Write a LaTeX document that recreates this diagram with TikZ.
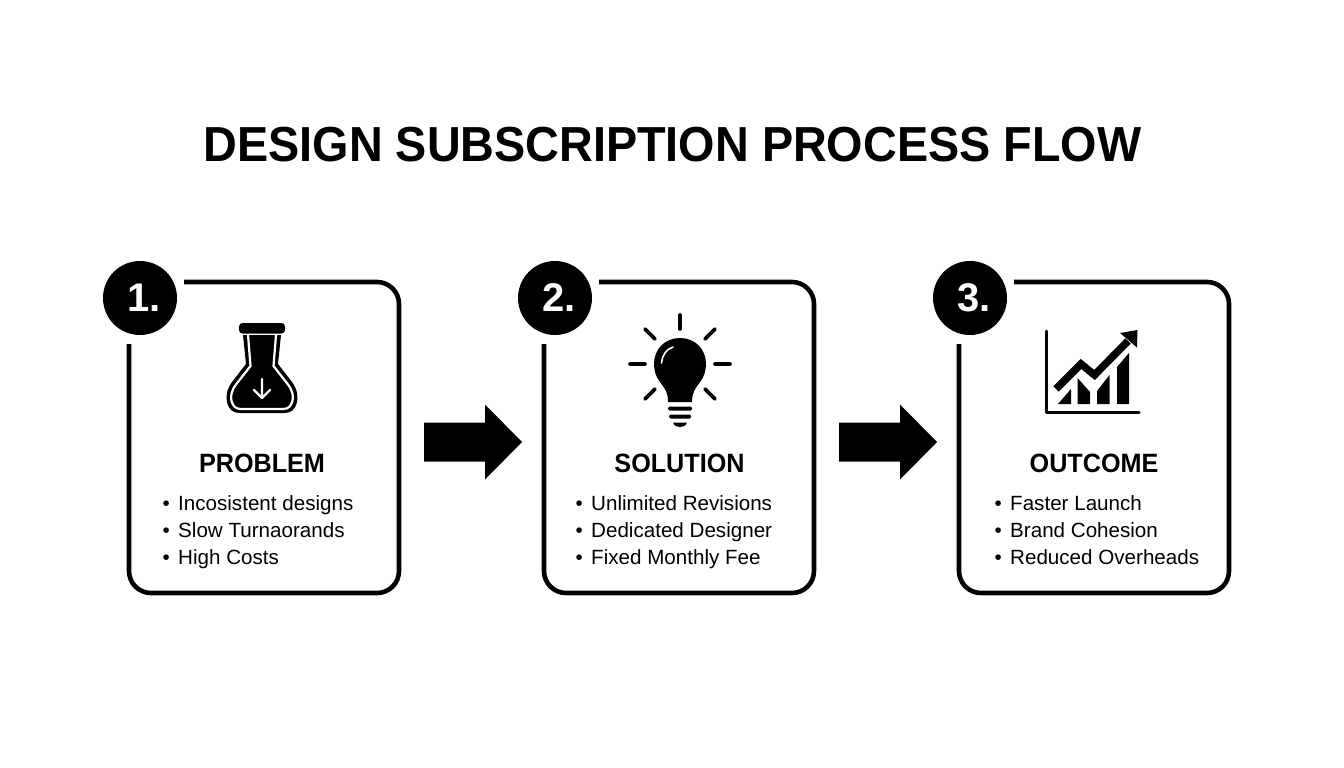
\documentclass[tikz,border=0pt]{standalone}
\usepackage{fontspec}
\setmainfont{Liberation Sans}
\newfontfamily\narrowfont[FakeStretch=0.95]{Liberation Sans}
\newcommand{\bul}{\makebox[15.5pt][l]{•}}
\tikzset{
  x=1pt,y=-1pt,
  cardline/.style={line width=4.6pt,rounded corners=22pt},
  badge/.style={circle,fill=black,minimum size=74pt,inner sep=0pt,text=white,font=\fontsize{40}{40}\selectfont\bfseries},
  heading/.style={inner sep=0pt,font=\narrowfont\fontsize{26.5}{28}\selectfont\bfseries},
  items/.style={inner sep=0pt,anchor=north west,align=left,font=\fontsize{20.6}{27}\selectfont},
  ray/.style={line width=3.6pt,line cap=round},
}
\begin{document}
\begin{tikzpicture}
\useasboundingbox (0,0) rectangle (1344,768);
\fill[white] (0,0) rectangle (1344,768);
\node[inner sep=0pt,font=\narrowfont\fontsize{49.2}{52}\selectfont\bfseries] (title) at (672.5,145) {DESIGN SUBSCRIPTION PROCESS FLOW};

% card 1
\draw[cardline] (184,282) -- (399,282) -- (399,593) -- (129,593) -- (129,344);
\node[badge] (b1) at (140,298) {\hspace*{8pt}1.};
\node[heading] (h1) at (262,463) {PROBLEM};
\node[items] (l1) at (162.5,495) {\bul Incosistent designs\\\bul Slow Turnaorands\\\bul High Costs};

% card 2
\draw[cardline] (599,282) -- (814,282) -- (814,593) -- (544,593) -- (544,344);
\node[badge] (b2) at (555,298) {\hspace*{8pt}2.};
\node[heading] (h2) at (679.5,463) {SOLUTION};
\node[items] (l2) at (575.5,495) {\bul Unlimited Revisions\\\bul Dedicated Designer\\\bul Fixed Monthly Fee};

% card 3
\draw[cardline] (1014,282) -- (1229,282) -- (1229,593) -- (959,593) -- (959,344);
\node[badge] (b3) at (970,298) {\hspace*{8pt}3.};
\node[heading] (h3) at (1094,463) {OUTCOME};
\node[items] (l3) at (994.5,495) {\bul Faster Launch\\\bul Brand Cohesion\\\bul Reduced Overheads};

% block arrows
\foreach \ax in {424,839}
  \fill (\ax,422.5) -- ({\ax+61},422.5) -- ({\ax+61},404.5) -- ({\ax+98},442) -- ({\ax+61},479.5) -- ({\ax+61},461.5) -- (\ax,461.5) -- cycle;

% flask
\fill[rounded corners=3.5pt] (239,323) rectangle (285,333.5);
\fill (243,335) -- (246,364) -- (232,382) .. controls (226,390) and (226,398) .. (227,402) .. controls (229,410) and (233,413) .. (240,413) -- (284,413) .. controls (291,413) and (295,410) .. (297,402) .. controls (298,398) and (298,390) .. (292,382) -- (278,364) -- (281,335) -- cycle;
\draw[white,line width=2.2pt] (248,335) -- (250.5,366) -- (236,384.5) .. controls (231,391) and (230.5,397) .. (231.5,401) .. controls (233,406.5) and (236,409) .. (241,409) -- (283,409) .. controls (288,409) and (291,406.5) .. (292.5,401) .. controls (293.5,397) and (293,391) .. (288,384.5) -- (273.5,366) -- (276,335);
\draw[white,line width=2.3pt,line cap=round,line join=round] (262,379) -- (262,397.5) (254,390) -- (262,398) -- (270,390);

% bulb
\foreach \xa/\ya/\xb/\yb in {680/315/680/329, 645/329/655/339, 715/329/705/339, 630/364/645/364, 715/364/730/364, 645/399/655/389, 715/399/705/389}
  \draw[ray] (\xa,\ya) -- (\xb,\yb);
\fill (668,402) .. controls (668,392) and (665,389) .. (660,382) .. controls (656,377) and (654,371) .. (654,364) .. controls (654,349) and (665,338) .. (680,338) .. controls (695,338) and (706,349) .. (706,364) .. controls (706,371) and (704,377) .. (700,382) .. controls (695,389) and (692,392) .. (692,402) -- cycle;
\draw[white,line width=1.6pt,line cap=round] (661.5,363) .. controls (662,356) and (666,349) .. (673,347);
\fill[rounded corners=1.5pt] (668,406.5) rectangle (692,410.5);
\fill[rounded corners=1.5pt] (669,414.5) rectangle (691,418.5);
\fill (673,422.5) -- (687,422.5) .. controls (686,426) and (683,427) .. (680,427) .. controls (677,427) and (674,426) .. (673,422.5) -- cycle;

% chart
\draw[line width=3pt,line join=round,line cap=round] (1046,331) -- (1046,412) -- (1139,412);
\fill (1058,404) -- (1071,389) -- (1071,404) -- cycle;
\fill (1077.5,378) -- (1090,392) -- (1090,404) -- (1077.5,404) -- cycle;
\fill (1097,391) -- (1109.5,375) -- (1109.5,404) -- (1097,404) -- cycle;
\fill (1117,367) -- (1129,353) -- (1129,404) -- (1117,404) -- cycle;
\draw[line width=7.5pt,line join=miter] (1056,389) -- (1081,364) -- (1094.5,375) -- (1128,341);
\fill (1120,333) -- (1137.5,330) -- (1137,347.5) -- cycle;
\end{tikzpicture}
\end{document}
